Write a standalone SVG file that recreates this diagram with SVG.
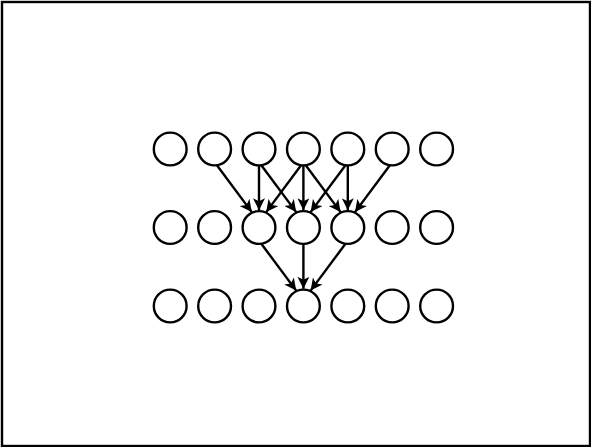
<svg xmlns="http://www.w3.org/2000/svg" width="591" height="447" viewBox="0 0 591 447">
<style>
.n circle{fill:#fff;stroke:#000;stroke-width:2.4}
.e line{stroke:#000;stroke-width:2.4;marker-end:url(#ah)}
</style>
<defs>
<marker id="ah" viewBox="0 0 10 10" refX="10" refY="5" markerWidth="13" markerHeight="12" markerUnits="userSpaceOnUse" orient="auto">
<path d="M0,0 L10,5 L0,10 L2.5,5 z" fill="#000"/>
</marker>
</defs>
<rect x="2" y="2" width="588" height="444" fill="#fff" stroke="#000" stroke-width="2.4"/>
<g class="n">
<g id="a0"><circle cx="170.2" cy="149" r="16.4"/></g>
<g id="a1"><circle cx="214.6" cy="149" r="16.4"/></g>
<g id="a2"><circle cx="259" cy="149" r="16.4"/></g>
<g id="a3"><circle cx="303.4" cy="149" r="16.4"/></g>
<g id="a4"><circle cx="347.8" cy="149" r="16.4"/></g>
<g id="a5"><circle cx="392.2" cy="149" r="16.4"/></g>
<g id="a6"><circle cx="436.6" cy="149" r="16.4"/></g>
<g id="b0"><circle cx="170.2" cy="227.5" r="16.4"/></g>
<g id="b1"><circle cx="214.6" cy="227.5" r="16.4"/></g>
<g id="b2"><circle cx="259" cy="227.5" r="16.4"/></g>
<g id="b3"><circle cx="303.4" cy="227.5" r="16.4"/></g>
<g id="b4"><circle cx="347.8" cy="227.5" r="16.4"/></g>
<g id="b5"><circle cx="392.2" cy="227.5" r="16.4"/></g>
<g id="b6"><circle cx="436.6" cy="227.5" r="16.4"/></g>
<g id="c0"><circle cx="170.2" cy="306" r="16.4"/></g>
<g id="c1"><circle cx="214.6" cy="306" r="16.4"/></g>
<g id="c2"><circle cx="259" cy="306" r="16.4"/></g>
<g id="c3"><circle cx="303.4" cy="306" r="16.4"/></g>
<g id="c4"><circle cx="347.8" cy="306" r="16.4"/></g>
<g id="c5"><circle cx="392.2" cy="306" r="16.4"/></g>
<g id="c6"><circle cx="436.6" cy="306" r="16.4"/></g>
</g>
<g id="connectors" class="e">
<line x1="217.1" y1="165.5" x2="251.8" y2="212.1"/>
<line x1="259" y1="165.5" x2="259" y2="210.3"/>
<line x1="261.5" y1="165.5" x2="296.2" y2="212.1"/>
<line x1="300.9" y1="165.5" x2="266.2" y2="212.1"/>
<line x1="303.4" y1="165.5" x2="303.4" y2="210.3"/>
<line x1="305.9" y1="165.5" x2="340.6" y2="212.1"/>
<line x1="345.3" y1="165.5" x2="310.6" y2="212.1"/>
<line x1="347.8" y1="165.5" x2="347.8" y2="210.3"/>
<line x1="389.7" y1="165.5" x2="355" y2="212.1"/>
<line x1="261.5" y1="244" x2="296.2" y2="290.6"/>
<line x1="303.4" y1="244" x2="303.4" y2="288.8"/>
<line x1="345.3" y1="244" x2="310.6" y2="290.6"/>
</g>
</svg>
